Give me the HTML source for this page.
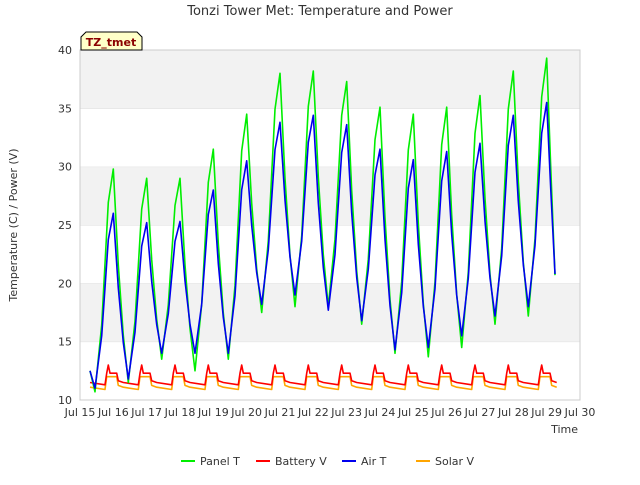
<!DOCTYPE html>
<html><head><meta charset="utf-8"><style>
body{margin:0;background:#fff;font-family:"Liberation Sans","DejaVu Sans",sans-serif}
text{font-family:"DejaVu Sans","Liberation Sans",sans-serif}
</style></head><body>
<svg id="chart" width="640" height="480" xmlns="http://www.w3.org/2000/svg">
<text x="320" y="15" text-anchor="middle" font-size="13" fill="#333">Tonzi Tower Met: Temperature and Power</text>
<g id="bands"></g>
<rect x="80" y="50" width="500" height="350" fill="none" stroke="#ccc"/>
<g id="yticks"></g><g id="xticks"></g><g id="series"></g>
<text transform="translate(17,225) rotate(-90)" text-anchor="middle" font-size="11" fill="#333">Temperature (C) / Power (V)</text>
<text x="578" y="433" text-anchor="end" font-size="11" fill="#333">Time</text>
<g>
<path d="M81,50 L81,37 L86,32 L137,32 L142,37 L142,50 Z" fill="#ffffc8" stroke="#000"/>
<text x="111" y="46" text-anchor="middle" font-size="11" font-weight="bold" fill="#8b0000">TZ_tmet</text>
</g>
<g id="legend"></g>
</svg>
<script>
const yTicks=[10,15,20,25,30,35,40];
const xDays=[15,16,17,18,19,20,21,22,23,24,25,26,27,28,29,30];
const days=[15,16,17,18,19,20,21,22,23,24,25,26,27,28];
const panelPeak=[29.8,29.0,29.0,31.5,34.5,38.0,38.2,37.3,35.1,34.5,35.1,36.1,38.2,39.3];
const panelMin=[10.7,11.5,13.5,12.5,13.5,17.5,18.0,18.0,16.5,14.0,13.7,14.5,16.5,17.2];
const airPeak=[26.0,25.2,25.3,28.0,30.5,33.8,34.4,33.6,31.5,30.6,31.3,32.0,34.4,35.5];
const airMin=[11.0,11.8,14.0,14.0,14.0,18.2,19.0,17.7,16.8,14.3,14.5,15.5,17.2,18.0];
const batteryHigh=[13.0,13.0,13.0,13.0,13.0,13.0,13.0,13.0,13.0,13.0,13.0,13.0,13.0,13.0,13.0];
const batteryLow=[11.3,11.3,11.3,11.3,11.3,11.3,11.3,11.3,11.3,11.3,11.3,11.3,11.3,11.3,11.3];
const solarHigh=[12.0,12.0,12.0,12.0,12.0,12.0,12.0,12.0,12.0,12.0,12.0,12.0,12.0,12.0,12.0];
const solarLow=[10.9,10.9,10.9,10.9,10.9,10.9,10.9,10.9,10.9,10.9,10.9,10.9,10.9,10.9,10.9];
const panelEnd=20.7, airEnd=20.8, startT=12.5;

const NS="http://www.w3.org/2000/svg";
const X=d=>80+(d-15)*500/15, Y=v=>400-(v-10)*350/30;
function el(t,a,p){const e=document.createElementNS(NS,t);for(const k in a)e.setAttribute(k,a[k]);p.appendChild(e);return e;}
const bands=document.getElementById('bands');
for(let i=0;i<yTicks.length-1;i++){
  const r=el('rect',{x:80,y:Y(yTicks[i+1]),width:500,height:Y(yTicks[i])-Y(yTicks[i+1]),fill:(i%2==1)?'#f2f2f2':'#fff'},bands);
  
  
  const l=el('line',{x1:80,x2:580,y1:Y(yTicks[i+1]),y2:Y(yTicks[i+1]),stroke:'#ddd'},bands);
  
  
}
const yt=document.getElementById('yticks');
yTicks.forEach(v=>{const t=el('text',{x:72,y:Y(v)+4,'text-anchor':'end','font-size':11,fill:'#333'},yt);t.textContent=v;

});
const xt=document.getElementById('xticks');
xDays.forEach(d=>{const t=el('text',{x:X(d),y:416,'text-anchor':'middle','font-size':11,fill:'#333'},xt);t.textContent='Jul '+d;

});

function tempPts(peak,mn,endv){
  const p=[[15.3,startT]];
  days.forEach((d,i)=>{
    p.push([d+0.45,mn[i]]);p.push([d+0.65,mn[i]+(peak[i]-mn[i])*0.3]);
    p.push([d+0.85,mn[i]+(peak[i]-mn[i])*0.85]);p.push([d+1.0,peak[i]]);
    const last=i+1>=mn.length;
    const nm=last?endv:mn[i+1];
    if(last){p.push([d+1.12,nm+(peak[i]-nm)*0.5]);}
    else{p.push([d+1.15,nm+(peak[i]-nm)*0.55]);p.push([d+1.3,nm+(peak[i]-nm)*0.22]);}
  });
  p.push([29.25,endv]);
  return p;
}
function powPts(hi,lo,spike){
  const p=[];
  for(let i=0;i<hi.length;i++){const d=15+i;
    p.push([d+0.3,lo[i]+0.2]);p.push([d+0.75,lo[i]]);p.push([d+0.8,hi[i]-(spike?0.7:0)]);
    if(spike){p.push([d+0.85,hi[i]]);p.push([d+0.9,hi[i]-0.7]);}
    p.push([d+1.1,hi[i]-(spike?0.7:0)]);p.push([d+1.15,lo[i]+0.35]);}
  return p.filter(q=>q[0]>=15.3&&q[0]<=29.3);
}
const sg=document.getElementById('series');
function line(pts,color,name){
  const pl=el('polyline',{points:pts.map(q=>X(q[0]).toFixed(1)+','+Y(q[1]).toFixed(1)).join(' '),fill:'none',stroke:color,'stroke-width':1.6,'stroke-linejoin':'round'},sg);
  
  
}
line(powPts(solarHigh,solarLow,false),'#ffa500','solar-v-line');
line(powPts(batteryHigh,batteryLow,true),'#ff0000','battery-v-line');
line(tempPts(panelPeak,panelMin,panelEnd),'#00ee00','panel-t-line');
line(tempPts(airPeak,airMin,airEnd),'#0000ee','air-t-line');

const lg=document.getElementById('legend');
[['Panel T','#00ee00',181],['Battery V','#ff0000',256],['Air T','#0000ee',342],['Solar V','#ffa500',416]].forEach(e=>{
  const g=el('g',{},lg);
  
  
  el('line',{x1:e[2],x2:e[2]+14,y1:461,y2:461,stroke:e[1],'stroke-width':2},g);
  const t=el('text',{x:e[2]+19,y:465,'font-size':11,fill:'#333'},g);t.textContent=e[0];
});
</script>
</body></html>
